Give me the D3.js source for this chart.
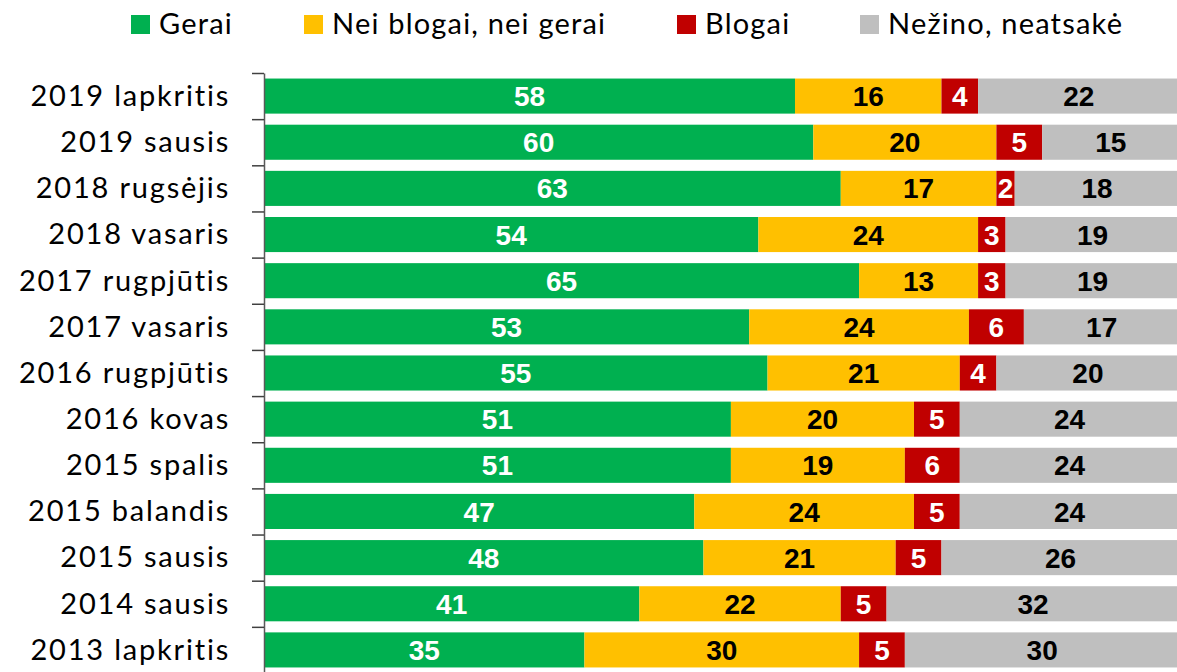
<!doctype html>
<html lang="lt">
<head>
<meta charset="utf-8">
<style>
  body { margin: 0; background: #fff; }
  .cat text { font-family: Lato, "Open Sans", sans-serif; font-size: 29px; letter-spacing: 1.8px; fill: #000; }
  .val { font-family: "Liberation Sans", Arial, sans-serif; font-weight: bold; font-size: 28px; }
  .legend text { font-family: Lato, "Open Sans", sans-serif; font-size: 29px; letter-spacing: 1.2px; fill: #000; }
</style>
<script src="https://d3js.org/d3.v7.min.js"></script>
</head>
<body>
<div id="chart"></div>
<script>
var categories = ["2019 lapkritis", "2019 sausis", "2018 rugsėjis", "2018 vasaris", "2017 rugpjūtis",
  "2017 vasaris", "2016 rugpjūtis", "2016 kovas", "2015 spalis", "2015 balandis",
  "2015 sausis", "2014 sausis", "2013 lapkritis"];
var seriesNames = ["Gerai", "Nei blogai, nei gerai", "Blogai", "Nežino, neatsakė"];
var gerai   = [58, 60, 63, 54, 65, 53, 55, 51, 51, 47, 48, 41, 35];
var neiNei  = [16, 20, 17, 24, 13, 24, 21, 20, 19, 24, 21, 22, 30];
var blogai  = [4, 5, 2, 3, 3, 6, 4, 5, 6, 5, 5, 5, 5];
var nezino  = [22, 15, 18, 19, 19, 17, 20, 24, 24, 24, 26, 32, 30];
var colors = ["#00B050", "#FFC000", "#C00000", "#BFBFBF"];
var textColors = ["#fff", "#000", "#fff", "#000"];

var width = 1177, height = 672;
var svg = d3.select("#chart").append("svg")
    .attr("width", width)
    .attr("height", height);

var x = d3.scaleLinear().domain([0, 100]).range([264, 1179.5]);
var y = d3.scaleBand().domain(categories).range([73, 673]).paddingInner(0.24).paddingOuter(0.12);
var yEdge = d3.scaleLinear().domain([0, categories.length]).range([73, 673]);

// stacked data
var all = [gerai, neiNei, blogai, nezino];
var rows = categories.map(function(c, i) {
    var r = { cat: c };
    seriesNames.forEach(function(s, j) { r[s] = all[j][i]; });
    return r;
});
var stacked = d3.stack().keys(seriesNames)(rows);

var groups = svg.selectAll("g.series")
    .data(stacked)
    .enter().append("g")
    .attr("class", "series")
    .attr("fill", function(d, i) { return colors[i]; });

groups.selectAll("rect")
    .data(function(d) { return d; })
    .enter().append("rect")
    .attr("x", function(d) { return x(d[0]); })
    .attr("y", function(d) { return y(d.data.cat); })
    .attr("width", function(d) { return x(d[1]) - x(d[0]); })
    .attr("height", y.bandwidth());

groups.selectAll("text")
    .data(function(d, i) { return d.map(function(p) { p.si = i; return p; }); })
    .enter().append("text")
    .attr("class", "val")
    .attr("x", function(d) { return (x(d[0]) + x(d[1])) / 2; })
    .attr("y", function(d) { return y(d.data.cat) + y.bandwidth() / 2; })
    .attr("dy", "0.36em")
    .attr("text-anchor", "middle")
    .attr("fill", function(d) { return textColors[d.si]; })
    .text(function(d) { return d[1] - d[0]; });

// category axis (labels)
var catAxis = svg.append("g")
    .attr("class", "cat")
    .attr("transform", "translate(264,0)")
    .call(d3.axisLeft(y).tickSize(0).tickPadding(34));
catAxis.select(".domain").remove();
catAxis.selectAll("text").attr("dy", "0.34em");

// axis line with boundary ticks
var edgeAxis = svg.append("g")
    .attr("transform", "translate(264,0)")
    .call(d3.axisLeft(yEdge).ticks(categories.length).tickSize(12).tickSizeOuter(0).tickFormat(""));
edgeAxis.select(".domain").attr("stroke", "#595959").attr("stroke-width", 1.5);
edgeAxis.selectAll(".tick line").attr("stroke", "#404040").attr("stroke-width", 1.5);

// legend
var legendX = [131, 304, 677, 860];
var legend = svg.append("g").attr("class", "legend");
var li = legend.selectAll("g").data(seriesNames).enter().append("g")
    .attr("transform", function(d, i) { return "translate(" + legendX[i] + ",15)"; });
li.append("rect").attr("width", 19).attr("height", 19)
    .attr("fill", function(d, i) { return colors[i]; });
li.append("text").attr("x", 28).attr("y", 19).text(function(d) { return d; });
</script>
</body>
</html>
